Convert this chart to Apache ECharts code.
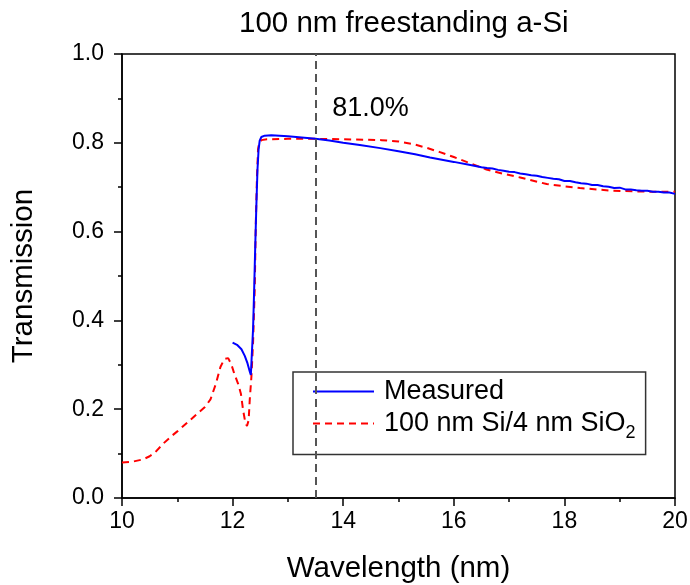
<!DOCTYPE html>
<html>
<head>
<meta charset="utf-8">
<script src="https://cdn.jsdelivr.net/npm/echarts@6/dist/echarts.min.js"></script>
<style>
  html, body { margin: 0; padding: 0; background: #fff; }
  #chart { width: 690px; height: 585px; }
</style>
</head>
<body>
<div id="chart"></div>
<script>
var FONT = 'Arial, "Liberation Sans", sans-serif';

// measured transmission (blue)
var measuredX = [12.00, 12.08, 12.16, 12.22, 12.27, 12.31, 12.33, 12.35, 12.37, 12.39, 12.41, 12.43, 12.45, 12.47, 12.49,
    12.52, 12.58, 12.70, 12.85, 13.00, 13.25, 13.50, 13.75, 14.00, 14.30, 14.67, 15.00, 15.30, 15.57, 16.00, 16.30,
    16.50, 16.60, 16.70, 16.80, 16.90, 17.00, 17.10, 17.20, 17.30, 17.40, 17.50, 17.60, 17.70, 17.80, 17.90, 18.00,
    18.10, 18.20, 18.30, 18.40, 18.50, 18.60, 18.70, 18.80, 18.90, 19.00, 19.10, 19.20, 19.30, 19.40, 19.50, 19.60,
    19.70, 19.80, 19.90, 20.00];
var measuredY = [0.350, 0.345, 0.335, 0.320, 0.303, 0.285, 0.277, 0.330, 0.380, 0.470, 0.570, 0.660, 0.740, 0.785, 0.805,
    0.813, 0.816, 0.817, 0.816, 0.815, 0.812, 0.809, 0.805, 0.800, 0.795, 0.788, 0.781, 0.774, 0.767, 0.757, 0.750,
    0.745, 0.743, 0.742, 0.739, 0.737, 0.735, 0.734, 0.731, 0.729, 0.727, 0.726, 0.723, 0.721, 0.719, 0.718, 0.714,
    0.714, 0.711, 0.709, 0.708, 0.705, 0.705, 0.702, 0.701, 0.698, 0.699, 0.695, 0.695, 0.693, 0.692, 0.692, 0.690,
    0.690, 0.688, 0.688, 0.685];

// simulated 100 nm Si / 4 nm SiO2 (red dashed)
var modelX = [10.00, 10.20, 10.38, 10.50, 10.60, 10.75, 10.90, 11.00, 11.20, 11.40, 11.50, 11.60, 11.70, 11.78, 11.85,
    11.92, 11.98, 12.03, 12.10, 12.15, 12.19, 12.23, 12.26, 12.29, 12.31, 12.34, 12.37, 12.40, 12.42, 12.44, 12.46,
    12.48, 12.52, 12.62, 13.00, 13.50, 14.00, 14.40, 14.70, 15.00, 15.27, 15.50, 15.75, 16.00, 16.23, 16.59, 16.90,
    17.20, 17.68, 18.00, 18.28, 18.88, 19.49, 20.00];
var modelY = [0.080, 0.082, 0.087, 0.094, 0.103, 0.123, 0.140, 0.150, 0.172, 0.194, 0.205, 0.222, 0.258, 0.295, 0.313,
    0.315, 0.300, 0.280, 0.257, 0.235, 0.198, 0.170, 0.162, 0.175, 0.221, 0.273, 0.350, 0.470, 0.620, 0.720, 0.785,
    0.800, 0.806, 0.808, 0.809, 0.809, 0.808, 0.807, 0.806, 0.803, 0.797, 0.789, 0.779, 0.768, 0.757, 0.740, 0.730,
    0.722, 0.707, 0.702, 0.698, 0.692, 0.690, 0.690];

var seriesNames = ['Measured', '100 nm Si/4 nm SiO2'];

var markerX = 13.5;
var markerText = '81.0%';
var markerTextPos = [13.8, 0.877];

var xTicks = [10, 20, 2];
var yTicks = [0, 1, 0.2];

function zip(xs, ys) {
    var out = [];
    for (var i = 0; i < xs.length; i++) out.push([xs[i], ys[i]]);
    return out;
}

var chart = echarts.init(document.getElementById('chart'), null, { renderer: 'canvas' });

var option = {
    animation: false,
    backgroundColor: '#fff',
    textStyle: { fontFamily: FONT, color: '#000' },
    title: {
        text: '100 nm freestanding a-Si',
        left: 239,
        top: 9,
        padding: 0,
        textStyle: { fontFamily: FONT, fontSize: 29.5, fontWeight: 'normal', color: '#000' }
    },
    grid: {
        left: 122, right: 15, top: 54, bottom: 87,
        containLabel: false,
        outerBoundsMode: 'none',
        show: true, borderColor: '#000', borderWidth: 1.5, backgroundColor: 'transparent'
    },
    legend: {
        orient: 'vertical',
        left: 293, top: 372,
        padding: [6, 10, 12, 19],
        itemWidth: 61, itemHeight: 14, itemGap: 5,
        borderColor: '#333', borderWidth: 1.5,
        itemStyle: { opacity: 0, borderWidth: 0 },
        textStyle: {
            fontFamily: FONT, fontSize: 27, color: '#000', lineHeight: 26,
            padding: [0, 0, 0, 5],
            rich: {
                sub: { fontFamily: FONT, fontSize: 18, color: '#000', lineHeight: 12, padding: [14, 0, 0, 0], verticalAlign: 'top' }
            }
        },
        formatter: function (name) {
            // subscript the oxide's "2"
            if (name === seriesNames[1]) return name.slice(0, -1) + '{sub|2}';
            return name;
        },
        data: seriesNames
    },
    xAxis: {
        type: 'value',
        min: xTicks[0], max: xTicks[1], interval: xTicks[2],
        name: 'Wavelength (nm)',
        nameLocation: 'middle',
        nameGap: 71,
        nameTextStyle: { fontFamily: FONT, fontSize: 29.5, color: '#000', verticalAlign: 'middle' },
        axisLine: { show: true, lineStyle: { color: '#000', width: 1.5 } },
        axisTick: { show: true, inside: false, length: 8, lineStyle: { color: '#000', width: 1.5 } },
        minorTick: { show: true, splitNumber: 2, length: 4, lineStyle: { color: '#000', width: 1.5 } },
        axisLabel: { fontFamily: FONT, fontSize: 23, color: '#000', margin: 12 },
        splitLine: { show: false }
    },
    yAxis: {
        type: 'value',
        min: yTicks[0], max: yTicks[1], interval: yTicks[2],
        name: 'Transmission',
        nameLocation: 'middle',
        nameGap: 98,
        nameTextStyle: { fontFamily: FONT, fontSize: 29.5, color: '#000', verticalAlign: 'middle' },
        axisLine: { show: true, lineStyle: { color: '#000', width: 1.5 } },
        axisTick: { show: true, inside: false, length: 8, lineStyle: { color: '#000', width: 1.5 } },
        minorTick: { show: true, splitNumber: 2, length: 4, lineStyle: { color: '#000', width: 1.5 } },
        axisLabel: {
            fontFamily: FONT, fontSize: 23, color: '#000', margin: 18,
            formatter: function (v) { return v.toFixed(1); }
        },
        splitLine: { show: false }
    },
    series: [
        {
            name: seriesNames[0],
            type: 'line',
            symbol: 'none',
            data: zip(measuredX, measuredY),
            lineStyle: { color: '#0000ff', width: 2 },
            itemStyle: { color: '#0000ff' },
            z: 3,
            markLine: {
                silent: true,
                symbol: 'none',
                label: { show: false },
                lineStyle: { color: '#555', width: 2, type: [8, 5] },
                data: [{ xAxis: markerX }]
            },
            markPoint: {
                silent: true,
                symbol: 'circle',
                symbolSize: 0,
                label: {
                    show: true, position: 'right', distance: 0,
                    formatter: markerText,
                    fontFamily: FONT, fontSize: 27, color: '#000'
                },
                data: [{ coord: markerTextPos }]
            }
        },
        {
            name: seriesNames[1],
            type: 'line',
            symbol: 'none',
            data: zip(modelX, modelY),
            lineStyle: { color: '#ff0000', width: 2, type: [7, 5] },
            itemStyle: { color: '#ff0000' },
            z: 2
        }
    ]
};

chart.setOption(option);
</script>
</body>
</html>
